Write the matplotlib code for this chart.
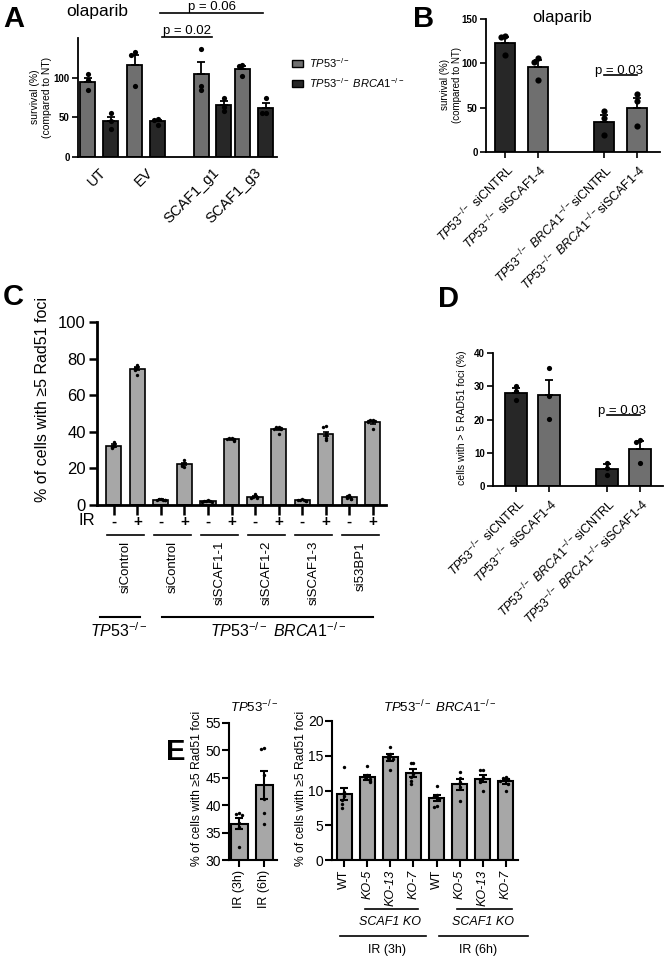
import matplotlib
matplotlib.use("Agg")
import numpy as np
import matplotlib.pyplot as plt
import matplotlib.transforms as mtransforms
from matplotlib.lines import Line2D
from matplotlib.patches import Rectangle

plt.rcParams['font.family'] = ['Liberation Sans', 'DejaVu Sans']
plt.rcParams['mathtext.fontset'] = 'custom'
plt.rcParams['mathtext.rm'] = 'Liberation Sans'
plt.rcParams['mathtext.it'] = 'Liberation Sans:italic'
plt.rcParams['mathtext.bf'] = 'Liberation Sans:bold'

W, H = 664, 958
GREY = '#6f6f6f'
DARK = '#272727'
LIGHT = '#a7a7a7'

# ---- panel A: olaparib survival
a_labels = ['UT', 'EV', 'SCAF1_g1', 'SCAF1_g3']
a_tp53 = [95, 116, 104, 111]
a_tp53_sem = [5, 12, 16, 4]
a_tp53_pts = [[104, 97, 85], [132, 128, 89], [136, 90, 85], [116, 115, 102]]
a_brca = [45, 45, 65, 62]
a_brca_sem = [6, 2, 5, 6]
a_brca_pts = [[55, 45, 35], [48, 47, 40], [75, 63, 58], [75, 56, 55]]

# ---- panel B: olaparib survival, siRNA
b_labels = [r'$\mathit{TP53^{-/-}}$ siCNTRL', r'$\mathit{TP53^{-/-}}$ siSCAF1-4',
            r'$\mathit{TP53^{-/-}\ BRCA1^{-/-}}$siCNTRL',
            r'$\mathit{TP53^{-/-}\ BRCA1^{-/-}}$siSCAF1-4']
b_mean = [123, 96, 34, 50]
b_sem = [7, 7.5, 8, 10.5]
b_pts = [[131, 130, 109], [106, 102, 81], [46, 38, 19], [65, 58, 29]]

# ---- panel C: Rad51 foci
c_groups = ['siControl', 'siControl', 'siSCAF1-1', 'siSCAF1-2', 'siSCAF1-3', 'si53BP1']
c_ir = ['-', '+'] * 6
c_mean = [32.5, 74.5, 3.0, 22.5, 2.0, 36.0, 4.5, 41.5, 2.7, 39.0, 4.2, 45.3]
c_sem = [0.6, 0.8, 0.2, 0.6, 0.1, 0.3, 0.4, 0.5, 0.2, 1.1, 0.4, 0.8]
c_pts = [[34.5, 33.5, 32.5, 32, 31.5, 31], [76.5, 75.5, 75, 74.5, 74, 71],
         [3.5, 3.2, 3, 3, 2.8, 2.5], [24.5, 23, 22.5, 22, 21.5, 20.5],
         [2.5, 2.3, 2.1, 2, 1.8, 1.6], [36.5, 36.5, 36, 35.8, 35.5, 35],
         [6, 5, 4.5, 4.2, 4, 3.8], [42.5, 42.5, 42, 41.8, 41.5, 39],
         [3.2, 3, 2.8, 2.6, 2.4, 2.2], [43, 42.5, 39.5, 38.5, 36.5, 35.5],
         [5.5, 5, 4.2, 3.8, 3.5, 3.2], [46.5, 46.3, 46, 45.8, 45.5, 41.5]]

# ---- panel D: RAD51 foci, siRNA
d_mean = [28, 27.5, 5.2, 11.2]
d_sem = [1.5, 4.5, 1.5, 2.2]
d_pts = [[30, 28.5, 25.8], [35.5, 27, 20.3], [7, 5.5, 3.2], [13.8, 13.1, 7.0]]

# ---- panel E: Rad51 foci, SCAF1 KO clones
e1_labels = ['IR (3h)', 'IR (6h)']
e1_mean = [36.6, 43.7]
e1_sem = [1.0, 2.5]
e1_pts = [[38.6, 38.4, 38.2, 36.8, 36.0, 32.3], [50.4, 50.2, 45.5, 41.2, 38.6, 36.5]]
e2_labels = ['WT', 'KO-5', 'KO-13', 'KO-7'] * 2
e2_mean = [9.5, 11.9, 14.8, 12.5, 8.9, 10.9, 11.7, 11.3]
e2_sem = [0.8, 0.4, 0.5, 0.6, 0.4, 0.8, 0.5, 0.3]
e2_pts = [[13.4, 9.8, 9.2, 8.7, 8.1, 7.5], [13.5, 12.2, 11.9, 11.6, 11.3, 11.2],
          [16.3, 15.3, 15.0, 14.7, 14.5, 13.0], [14.0, 14.0, 12.4, 11.9, 11.3, 11.0],
          [10.6, 9.4, 9.2, 8.8, 7.8, 7.6], [12.7, 11.8, 11.2, 10.5, 8.5],
          [12.9, 12.9, 12.0, 11.5, 11.2, 9.9], [11.9, 11.8, 11.6, 11.3, 11.0, 10.0]]

TP53 = r'$\mathit{TP53^{-/-}}$'
TP53_BRCA1 = r'$\mathit{TP53^{-/-}\ BRCA1^{-/-}}$'

fig = plt.figure(figsize=(W / 100, H / 100), dpi=100)
PX = mtransforms.Affine2D().scale(1 / W, -1 / H).translate(0, 1) + fig.transFigure


def add_ax(x0, y0, x1, y1, lw):
    ax = fig.add_axes([x0 / W, 1 - y1 / H, (x1 - x0) / W, (y1 - y0) / H])
    ax.spines[['top', 'right']].set_visible(False)
    ax.spines[['left', 'bottom']].set_linewidth(lw)
    ax.patch.set_alpha(0)
    return ax


def ftext(x, y, s, **kw):
    fig.text(x, y, s, transform=PX, **kw)


def fline(x0, x1, y, lw=1.2):
    fig.add_artist(Line2D([x0, x1], [y, y], transform=PX, color='black', lw=lw))


def swarm(vals, close):
    offs, seen = [], []
    for v in vals:
        n = sum(abs(u - v) < close for u in seen)
        offs.append([0, -1, 1, -2, 2, -3, 3][n])
        seen.append(v)
    return np.array(offs, dtype=float)


def draw_bars(ax, x, mean, sem, pts, colors, width, lw, dot, close, dx, both=False, cap=3):
    ax.bar(x, mean, width, color=colors, edgecolor='black', linewidth=lw, zorder=2)
    low = sem if both else np.zeros(len(sem))
    ax.errorbar(x, mean, yerr=[low, sem], fmt='none', ecolor='black',
                elinewidth=lw, capsize=cap, capthick=lw, zorder=3)
    for xi, p in zip(x, pts):
        ax.scatter(xi + swarm(p, close) * dx, p, s=dot, color='black',
                   linewidths=0, zorder=4, clip_on=False)


def bold_yticks(ax):
    for t in ax.get_yticklabels():
        t.set_fontweight('bold')


# ================= A =================
axA = add_ax(78, 38, 277, 157, 1.3)
a_x = np.array([0.42, 1.36, 2.69, 3.52])
draw_bars(axA, a_x - 0.23, a_tp53, a_tp53_sem, a_tp53_pts, GREY, 0.3, 1.3, 14, 5, 0.07)
draw_bars(axA, a_x + 0.23, a_brca, a_brca_sem, a_brca_pts, DARK, 0.3, 1.3, 14, 5, 0.07)
axA.set_xlim(0, 3.98)
axA.set_ylim(0, 150)
axA.set_yticks([0, 50, 100])
axA.set_xticks(a_x, a_labels, rotation=45, ha='right', rotation_mode='anchor', fontsize=10.5)
axA.tick_params(axis='x', length=0, pad=6)
axA.tick_params(axis='y', length=4, width=1.2, labelsize=7, pad=2)
bold_yticks(axA)
ftext(41, 97, 'survival (%)\n(compared to NT)', rotation=90, ha='center', va='center',
      fontsize=7.5, multialignment='center')
ftext(97, 16, 'olaparib', ha='center', va='baseline', fontsize=12.5)
ftext(212, 10, 'p = 0.06', ha='center', va='baseline', fontsize=9.5)
fline(160, 263, 13.5)
ftext(187, 34, 'p = 0.02', ha='center', va='baseline', fontsize=9.5)
fline(162, 212, 37)
for i, (lab, col) in enumerate([(TP53, GREY), (TP53_BRCA1, DARK)]):
    y = 63 + 20 * i
    fig.add_artist(Rectangle((292, y + 3.5), 11, -7, transform=PX, facecolor=col,
                             edgecolor='black', lw=1))
    ftext(309, y, lab, va='center', fontsize=8)

# ================= B =================
axB = add_ax(486, 19, 660, 152, 1.3)
b_x = np.array([0, 1, 3, 4])
draw_bars(axB, b_x, b_mean, b_sem, b_pts, [DARK, GREY, DARK, GREY], 0.6, 1.3, 20, 5, 0.13)
axB.set_xlim(-0.58, 4.7)
axB.set_ylim(0, 150)
axB.set_yticks([0, 50, 100, 150])
axB.set_xticks(b_x, b_labels, rotation=45, ha='right', rotation_mode='anchor', fontsize=9)
axB.tick_params(axis='x', length=4, width=1.2, pad=3)
axB.tick_params(axis='y', length=4, width=1.2, labelsize=7, pad=2)
bold_yticks(axB)
axB.plot([3, 4], [87, 87], color='black', lw=1.2)
axB.text(3.45, 88, 'p = 0.03', ha='center', va='baseline', fontsize=9.5)
ftext(451, 85, 'survival (%)\n(compared to NT)', rotation=90, ha='center', va='center',
      fontsize=7, multialignment='center')
ftext(562, 22, 'olaparib', ha='center', va='baseline', fontsize=12)

# ================= C =================
axC = add_ax(97, 322, 386, 505, 2)
c_x = np.arange(len(c_mean))
draw_bars(axC, c_x, c_mean, c_sem, c_pts, LIGHT, 0.64, 1.2, 6, 1.0, 0.09, both=True, cap=2)
axC.set_xlim(-0.72, 11.57)
axC.set_ylim(0, 100)
axC.set_yticks(range(0, 101, 20))
axC.set_xticks(c_x, c_ir, fontsize=11, fontweight='bold')
axC.tick_params(axis='x', length=7, width=1.8, pad=0)
axC.tick_params(axis='y', length=6, width=1.8, labelsize=12, pad=2)
ftext(43, 400, '% of cells with ≥5 Rad51 foci', rotation=90, ha='center', va='center',
      fontsize=11.5)
ftext(87, 521, 'IR', ha='center', va='center', fontsize=12)
btC = mtransforms.blended_transform_factory(axC.transData, PX)
for g, name in enumerate(c_groups):
    axC.plot([2 * g - 0.28, 2 * g + 1.28], [535, 535], transform=btC, color='black',
             lw=1.2, clip_on=False)
    axC.text(2 * g + 0.5, 541, name, transform=btC, rotation=90, ha='center', va='top',
             fontsize=9.5)
axC.plot([-0.6, 1.1], [617, 617], transform=btC, color='black', lw=1.5, clip_on=False)
axC.plot([2.04, 11.02], [617, 617], transform=btC, color='black', lw=1.5, clip_on=False)
axC.text(0.21, 631, TP53, transform=btC, ha='center', va='center', fontsize=11.5)
axC.text(6.98, 631, TP53_BRCA1, transform=btC, ha='center', va='center', fontsize=11.5)

# ================= D =================
axD = add_ax(493, 353, 663, 486, 1.3)
d_x = np.array([0, 1, 2.75, 3.75])
draw_bars(axD, d_x, d_mean, d_sem, d_pts, [DARK, GREY, DARK, GREY], 0.67, 1.3, 14, 1.5, 0.12)
axD.set_xlim(-0.7, 4.45)
axD.set_ylim(0, 40)
axD.set_yticks(range(0, 41, 10))
axD.set_xticks(d_x, b_labels, rotation=45, ha='right', rotation_mode='anchor', fontsize=9)
axD.tick_params(axis='x', length=4, width=1.2, pad=3)
axD.tick_params(axis='y', length=4, width=1.2, labelsize=7, pad=2)
bold_yticks(axD)
axD.plot([2.75, 3.75], [21.4, 21.4], color='black', lw=1.2)
axD.text(3.2, 21.6, 'p = 0.03', ha='center', va='baseline', fontsize=9.5)
ftext(462, 418, 'cells with > 5 RAD51 foci (%)', rotation=90, ha='center', va='center',
      fontsize=7.5)

# ================= E =================
axE1 = add_ax(229, 723, 277, 860, 1.5)
e1_x = np.arange(2)
draw_bars(axE1, e1_x, e1_mean, e1_sem, e1_pts, LIGHT, 0.68, 1.5, 6, 0.6, 0.12, both=True, cap=3)
axE1.set_xlim(-0.4, 1.52)
axE1.set_ylim(30, 55)
axE1.set_yticks(range(30, 56, 5))
axE1.set_xticks(e1_x, e1_labels, rotation=90, fontsize=9)
axE1.tick_params(axis='x', length=5, width=1.5, pad=2)
axE1.tick_params(axis='y', length=5, width=1.5, labelsize=10, pad=1)
ftext(254, 712, TP53, ha='center', va='baseline', fontsize=9.5)
ftext(197, 788, '% of cells with ≥5 Rad51 foci', rotation=90, ha='center', va='center',
      fontsize=8.7)

axE2 = add_ax(332, 721, 518, 860, 1.5)
e2_x = np.arange(len(e2_mean))
draw_bars(axE2, e2_x, e2_mean, e2_sem, e2_pts, LIGHT, 0.65, 1.5, 6, 0.6, 0.12, both=True, cap=3)
axE2.set_xlim(-0.54, 7.54)
axE2.set_ylim(0, 20)
axE2.set_yticks(range(0, 21, 5))
axE2.set_xticks(e2_x, e2_labels, rotation=90, fontsize=9)
for t in axE2.get_xticklabels():
    if t.get_text().startswith('KO'):
        t.set_fontstyle('italic')
axE2.tick_params(axis='x', length=5, width=1.5, pad=2)
axE2.tick_params(axis='y', length=5, width=1.5, labelsize=10, pad=1)
ftext(440, 712, TP53_BRCA1, ha='center', va='baseline', fontsize=9.5)
ftext(301, 788, '% of cells with ≥5 Rad51 foci', rotation=90, ha='center', va='center',
      fontsize=8.7)
btE = mtransforms.blended_transform_factory(axE2.transData, PX)
for x0, x1, xc in [(0.9, 3.2, 2.0), (4.9, 7.3, 6.0)]:
    axE2.plot([x0, x1], [909, 909], transform=btE, color='black', lw=1.2, clip_on=False)
    axE2.text(xc, 922, 'SCAF1 KO', transform=btE, ha='center', va='center', fontsize=9,
              fontstyle='italic')
for x0, x1, xc, lab in [(-0.2, 3.54, 1.85, 'IR (3h)'), (4.1, 7.98, 5.8, 'IR (6h)')]:
    axE2.plot([x0, x1], [936, 936], transform=btE, color='black', lw=1.2, clip_on=False)
    axE2.text(xc, 950, lab, transform=btE, ha='center', va='center', fontsize=9)

# panel letters
for letter, x, y in [('A', 3, 27), ('B', 413, 27), ('C', 3, 305), ('D', 438, 307), ('E', 166, 760)]:
    ftext(x, y, letter, ha='left', va='baseline', fontsize=21, fontweight='bold')

fig.savefig('out.png', dpi=100)
